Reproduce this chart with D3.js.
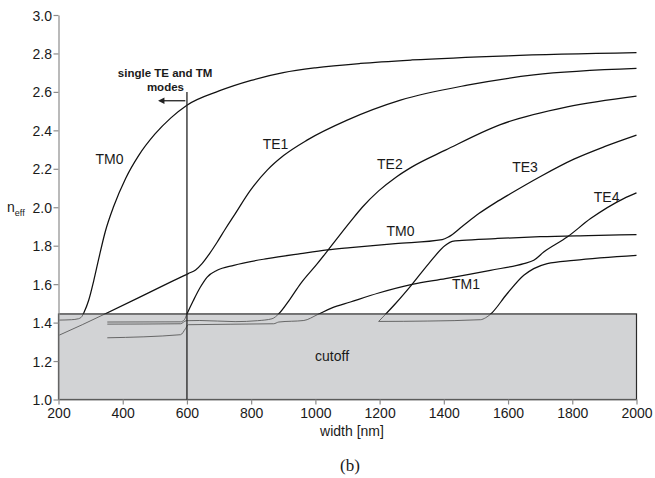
<!DOCTYPE html>
<html>
<head>
<meta charset="utf-8">
<script src="https://cdn.jsdelivr.net/npm/d3@7"></script>
<style>
  body { margin: 0; background: #fff; }
  svg { display: block; }
  text { font-family: "Liberation Sans", Arial, Helvetica, sans-serif; fill: #1a1a1a; }
</style>
</head>
<body>
<svg id="chart" width="655" height="478"></svg>
<script>
// ---------- data ----------
const xTicks = [200, 400, 600, 800, 1000, 1200, 1400, 1600, 1800, 2000];
const yTicks = [1.0, 1.2, 1.4, 1.6, 1.8, 2.0, 2.2, 2.4, 2.6, 2.8, 3.0];
const cutoffIndex = 1.445;
const singleModeWidth = 600;
const singleModeTop = 2.6;

// width [nm], n_eff
const curveTM0top = [[200,1.413],[240,1.415],[262,1.42],[272,1.43],[280,1.455],[294,1.516],[310,1.62],[325,1.73],[346,1.875],[372,2.005],[409,2.15],[450,2.27],[500,2.38],[550,2.465],[600,2.531],[700,2.605],[800,2.66],[900,2.70],[1000,2.725],[1140,2.748],[1300,2.766],[1600,2.788],[2000,2.804]];
const curveTE1 = [[200,1.333],[274,1.389],[346,1.446],[450,1.53],[550,1.612],[604,1.655],[627,1.674],[647,1.707],[670,1.758],[694,1.818],[720,1.888],[746,1.955],[798,2.089],[850,2.193],[902,2.27],[974,2.349],[1099,2.453],[1265,2.557],[1473,2.635],[1680,2.688],[2000,2.722]];
const curveTM0low = [[352,1.403],[580,1.404],[592,1.415],[600,1.445],[620,1.515],[642,1.585],[663,1.637],[694,1.672],[746,1.698],[850,1.733],[954,1.759],[1037,1.778],[1109,1.79],[1249,1.811],[1395,1.832],[1415,1.846],[1457,1.9],[1509,1.967],[1561,2.024],[1607,2.07],[1701,2.16],[1805,2.25],[1900,2.315],[2000,2.375]];
const curveTE2 = [[352,1.392],[580,1.394],[598,1.41],[640,1.411],[750,1.405],[820,1.41],[865,1.42],[886,1.446],[920,1.52],[954,1.603],[1006,1.707],[1037,1.772],[1109,1.925],[1146,2.0],[1197,2.085],[1250,2.155],[1301,2.21],[1405,2.297],[1576,2.43],[1784,2.522],[2000,2.578]];
const curveTM1 = [[352,1.321],[580,1.337],[596,1.37],[604,1.389],[870,1.394],[886,1.403],[964,1.411],[1006,1.441],[1050,1.475],[1109,1.507],[1197,1.554],[1301,1.599],[1405,1.629],[1545,1.672],[1649,1.707],[1680,1.724],[1711,1.767],[1784,1.845],[1857,1.941],[1960,2.045],[2000,2.075]];
const curveTE3 = [[1197,1.406],[1249,1.498],[1301,1.599],[1353,1.707],[1405,1.802],[1426,1.823],[1457,1.828],[1561,1.837],[1700,1.847],[1850,1.853],[2000,1.858]];
const curveTE4 = [[1197,1.406],[1350,1.408],[1514,1.415],[1530,1.425],[1545,1.443],[1597,1.55],[1649,1.646],[1680,1.681],[1722,1.707],[1805,1.724],[2000,1.75]];

const curves = [curveTM0top, curveTE1, curveTM0low, curveTE2, curveTM1, curveTE3, curveTE4];

// mode labels: text, width [nm] (centre), n_eff (baseline)
const labelTexts = ["TM0", "TE1", "TE2", "TE3", "TE4", "TM0", "TM1"];
const labelX = [359, 876, 1232, 1653, 1907, 1265, 1469];
const labelY = [2.225, 2.305, 2.20, 2.183, 2.029, 1.852, 1.576];

// ---------- layout ----------
const svg = d3.select("#chart");
const x = d3.scaleLinear().domain([200, 2000]).range([58.5, 636.5]);
const y = d3.scaleLinear().domain([1, 3]).range([399.5, 15]);

// cutoff box
svg.append("rect")
  .attr("x", x(200)).attr("y", y(cutoffIndex))
  .attr("width", x(2000) - x(200)).attr("height", y(1) - y(cutoffIndex))
  .attr("fill", "#d2d3d5");

// clip paths
const defs = svg.append("defs");
defs.append("clipPath").attr("id", "clipAbove").append("rect")
  .attr("x", x(200)).attr("y", 0).attr("width", x(2000) - x(200) + 2).attr("height", y(cutoffIndex));
defs.append("clipPath").attr("id", "clipBelow").append("rect")
  .attr("x", x(200)).attr("y", y(cutoffIndex)).attr("width", x(2000) - x(200)).attr("height", y(1) - y(cutoffIndex));

const line = d3.line().x(d => x(d[0])).y(d => y(d[1])).curve(d3.curveMonotoneX);

svg.append("g").attr("clip-path", "url(#clipBelow)")
  .selectAll("path").data(curves).join("path")
  .attr("d", line).attr("fill", "none").attr("stroke", "#5a5a5a").attr("stroke-width", 0.9);

svg.append("g").attr("clip-path", "url(#clipAbove)")
  .selectAll("path").data(curves).join("path")
  .attr("d", line).attr("fill", "none").attr("stroke", "#111").attr("stroke-width", 1.25);

// box outline
svg.append("rect")
  .attr("x", x(200)).attr("y", y(cutoffIndex))
  .attr("width", x(2000) - x(200)).attr("height", y(1) - y(cutoffIndex))
  .attr("fill", "none").attr("stroke", "#2a2a2a").attr("stroke-width", 1.2);

// axes
const xAxis = svg.append("g").attr("transform", `translate(0,${y(1)})`)
  .call(d3.axisBottom(x).tickValues(xTicks).tickSize(5).tickSizeOuter(0).tickFormat(d3.format("d")));
const yAxis = svg.append("g").attr("transform", `translate(${x(200)},0)`)
  .call(d3.axisLeft(y).tickValues(yTicks).tickSize(5).tickSizeOuter(0).tickFormat(d3.format(".1f")));
[xAxis, yAxis].forEach(g => {
  g.select(".domain").attr("stroke", "#8c8c8c").attr("stroke-width", 1.2);
  g.selectAll(".tick line").attr("stroke", "#8c8c8c").attr("stroke-width", 1.2);
  g.selectAll(".tick text").attr("font-size", 14).attr("fill", "#1a1a1a")
    .attr("font-family", "Liberation Sans, Arial, sans-serif");
});
xAxis.selectAll(".tick text").attr("dy", null).attr("y", 18.5);
yAxis.selectAll(".tick text").attr("x", -6.5).attr("dy", "0.36em");

// single mode line
svg.append("line")
  .attr("x1", x(singleModeWidth)).attr("x2", x(singleModeWidth))
  .attr("y1", y(1)).attr("y2", y(singleModeTop))
  .attr("stroke", "#222").attr("stroke-width", 1.3);

// arrow
const arrowY = y(2.554);
svg.append("line")
  .attr("x1", x(595)).attr("x2", x(525)).attr("y1", arrowY).attr("y2", arrowY)
  .attr("stroke", "#222").attr("stroke-width", 1.3);
svg.append("path")
  .attr("d", `M${x(510)},${arrowY} L${x(530)},${arrowY - 3.2} L${x(530)},${arrowY + 3.2} Z`)
  .attr("fill", "#222");

svg.append("text").attr("x", x(532)).attr("y", y(2.677))
  .attr("text-anchor", "middle").attr("font-size", 11.5).attr("font-weight", "bold")
  .text("single TE and TM");
svg.append("text").attr("x", x(533)).attr("y", y(2.605))
  .attr("text-anchor", "middle").attr("font-size", 11.5).attr("font-weight", "bold")
  .text("modes");

// mode labels
svg.append("g").selectAll("text").data(labelTexts).join("text")
  .attr("x", (d, i) => x(labelX[i])).attr("y", (d, i) => y(labelY[i]))
  .attr("text-anchor", "middle").attr("font-size", 14)
  .text(d => d);

// cutoff label
svg.append("text").attr("x", x(1052)).attr("y", y(1.198))
  .attr("text-anchor", "middle").attr("font-size", 14).text("cutoff");

// axis titles
svg.append("text").attr("x", 352).attr("y", 436)
  .attr("text-anchor", "middle").attr("font-size", 14).text("width [nm]");
const ny = svg.append("text").attr("x", 7).attr("y", y(2.0) + 5).attr("font-size", 14);
ny.append("tspan").text("n");
ny.append("tspan").attr("font-size", 9).attr("dy", 4).text("eff");

// caption
svg.append("text").attr("x", 350).attr("y", 471)
  .attr("text-anchor", "middle").attr("font-size", 17)
  .style("font-family", "'Liberation Serif', 'Times New Roman', serif").text("(b)");
</script>
</body>
</html>
